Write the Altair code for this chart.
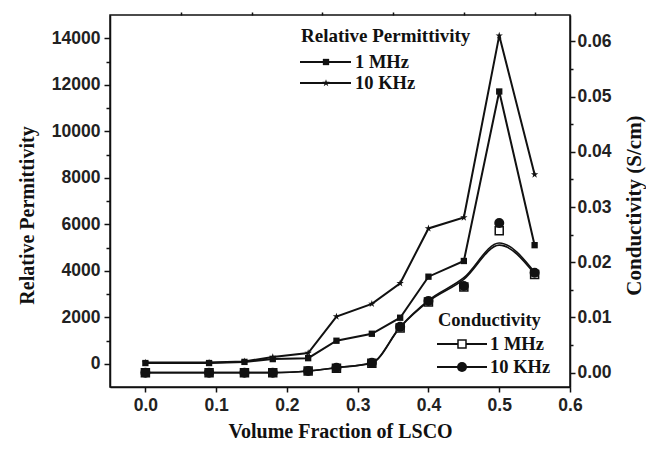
import altair as alt
import pandas as pd

# ---------------- data ----------------
x_frac = [0.0, 0.09, 0.14, 0.18, 0.23, 0.27, 0.32, 0.36, 0.40, 0.45, 0.50, 0.55]
perm_1mhz = [30, 30, 80, 200, 240, 990, 1290, 1980, 3745, 4420, 11710, 5100]
perm_10khz = [50, 50, 100, 290, 460, 2030, 2575, 3460, 5820, 6290, 14115, 8140]
cond_1mhz = [0.0000, 0.0000, 0.0000, 0.0000, 0.0003, 0.0008, 0.0017, 0.0081, 0.0128, 0.0155, 0.0257, 0.0178]
cond_10khz = [0.0000, 0.0000, 0.0000, 0.0000, 0.0003, 0.0009, 0.0018, 0.0083, 0.0130, 0.0157, 0.0271, 0.0181]
fit_1mhz = [0.0000, 0.0000, 0.0000, 0.0000, 0.0003, 0.0009, 0.0017, 0.0082, 0.0129, 0.0169, 0.0231, 0.0179]
fit_10khz = [0.0000, 0.0000, 0.0000, 0.0000, 0.0003, 0.0009, 0.0018, 0.0083, 0.0131, 0.0172, 0.0235, 0.0182]

x_ticks = [0.0, 0.1, 0.2, 0.3, 0.4, 0.5, 0.6]
x_minor = [0.05, 0.15, 0.25, 0.35, 0.45, 0.55]
perm_ticks = [0, 2000, 4000, 6000, 8000, 10000, 12000, 14000]
perm_minor = [1000, 3000, 5000, 7000, 9000, 11000, 13000]
cond_ticks = [0.00, 0.01, 0.02, 0.03, 0.04, 0.05, 0.06]
cond_minor = [0.005, 0.015, 0.025, 0.035, 0.045, 0.055]

perm_title = "Relative Permittivity"
cond_title = "Conductivity"
freq_labels = ["1 MHz", "10 KHz"]

STAR = ("M0,-1L0.2245,-0.309L0.951,-0.309L0.363,0.118L0.588,0.809L0,0.382"
        "L-0.588,0.809L-0.363,0.118L-0.951,-0.309L-0.2245,-0.309Z")

# ---------------- frames ----------------
p1 = pd.DataFrame({"x": x_frac, "v": perm_1mhz, "s": freq_labels[0]})
p10 = pd.DataFrame({"x": x_frac, "v": perm_10khz, "s": freq_labels[1]})
perm_df = pd.concat([p1, p10])
c1 = pd.DataFrame({"x": x_frac, "v": cond_1mhz})
c10 = pd.DataFrame({"x": x_frac, "v": cond_10khz})
f1 = pd.DataFrame({"x": x_frac, "v": fit_1mhz, "s": "a"})
f10 = pd.DataFrame({"x": x_frac, "v": fit_10khz, "s": "b"})
fit_df = pd.concat([f1, f10])
dummy = pd.DataFrame({"d": [0]})

W, H = 460, 372
INK = "#111111"
SANS = "Liberation Sans"
SERIF = "Liberation Serif"

xs = alt.Scale(domain=[-0.05, 0.6], nice=False, zero=False)
ps = alt.Scale(domain=[-1000, 15000], nice=False, zero=False)
cs = alt.Scale(domain=[-0.0026, 0.0648], nice=False, zero=False)

common_axis = dict(grid=False, domainColor=INK, domainWidth=1.5, tickColor=INK,
                   tickWidth=1.5, labelFont=SANS, labelFontSize=17.5,
                   labelFontWeight="bold", labelColor="#222222",
                   titleFont=SERIF, titleFontWeight="bold", titleColor=INK)

x_major = alt.Axis(values=x_ticks, format=".1f", tickSize=5, labelPadding=4,
                   title="Volume Fraction of LSCO", titleX=230, titleY=50,
                   titleFontSize=20,
                   titleBaseline="alphabetic", titleAlign="center",
                   labelFlush=False, **common_axis)
x_min = alt.Axis(values=x_minor, tickSize=3, labels=False, domain=False,
                 title=None, grid=False, tickColor=INK, tickWidth=1.5)

y_left = alt.Axis(values=perm_ticks, format="d", tickSize=6, labelPadding=4,
                  orient="left", title=perm_title, titleAngle=270, titleX=-77,
                  titleY=200, titleFontSize=20, titleBaseline="alphabetic",
                  titleAlign="center", **common_axis)
y_left_min = alt.Axis(values=perm_minor, tickSize=4, labels=False, domain=False,
                      orient="left", title=None, grid=False, tickColor=INK,
                      tickWidth=1.5)

y_right = alt.Axis(values=cond_ticks, format=".2f", tickSize=5, labelPadding=2,
                   orient="right", title="Conductivity (S/cm)", titleAngle=270,
                   titleX=70, titleY=190, titleFontSize=21,
                   titleBaseline="alphabetic",
                   titleAlign="center", **common_axis)
y_right_min = alt.Axis(values=cond_minor, tickSize=3, labels=False, domain=False,
                       orient="right", title=None, grid=False, tickColor=INK,
                       tickWidth=1.5)

# ---------------- permittivity ----------------
perm_lines = alt.Chart(perm_df).mark_line(color=INK, strokeWidth=2).encode(
    x=alt.X("x:Q", scale=xs, axis=x_major),
    y=alt.Y("v:Q", scale=ps, axis=y_left),
    detail="s:N",
)
perm_helper = alt.Chart(p1).mark_point(opacity=0).encode(
    x=alt.X("x:Q", scale=xs, axis=x_min),
    y=alt.Y("v:Q", scale=ps, axis=y_left_min),
)
perm_sq = alt.Chart(p1).mark_point(shape="square", filled=True, color=INK,
                                   size=40, opacity=1).encode(
    x=alt.X("x:Q", scale=xs, axis=None),
    y=alt.Y("v:Q", scale=ps, axis=None),
)
perm_star = alt.Chart(p10).mark_point(shape=STAR, filled=True, color=INK,
                                      size=60, opacity=1).encode(
    x=alt.X("x:Q", scale=xs, axis=None),
    y=alt.Y("v:Q", scale=ps, axis=None),
)
perm_layer = alt.layer(perm_lines, perm_helper, perm_sq, perm_star).resolve_axis(
    x="independent", y="independent")

# ---------------- conductivity ----------------
cond_curves = alt.Chart(fit_df).mark_line(color=INK, strokeWidth=1.6,
                                          interpolate="monotone").encode(
    x=alt.X("x:Q", scale=xs, axis=None),
    y=alt.Y("v:Q", scale=cs, axis=y_right),
    detail="s:N",
)
cond_helper = alt.Chart(c1).mark_point(opacity=0).encode(
    x=alt.X("x:Q", scale=xs, axis=None),
    y=alt.Y("v:Q", scale=cs, axis=y_right_min),
)
cond_sq = alt.Chart(c1).mark_point(shape="square", filled=True, fill="white",
                                   stroke=INK, strokeWidth=1.5, size=64,
                                   opacity=1).encode(
    x=alt.X("x:Q", scale=xs, axis=None),
    y=alt.Y("v:Q", scale=cs, axis=None),
)
cond_circ = alt.Chart(c10).mark_point(shape="circle", filled=True, color=INK,
                                      size=100, opacity=1).encode(
    x=alt.X("x:Q", scale=xs, axis=None),
    y=alt.Y("v:Q", scale=cs, axis=None),
)
cond_layer = alt.layer(cond_curves, cond_helper, cond_sq, cond_circ).resolve_axis(
    y="independent")

# ---------------- legends (pixel positions inside the plot) ----------------
def legend_text(txt, x, y, size=18.5):
    return alt.Chart(dummy).mark_text(font=SERIF, fontSize=size, fontWeight="bold",
                                      color=INK, align="left",
                                      baseline="middle").encode(
        x=alt.value(x), y=alt.value(y), text=alt.value(txt))

def legend_line(x0, x1, y):
    return alt.Chart(dummy).mark_rule(color=INK, strokeWidth=2).encode(
        x=alt.value(x0), x2=alt.value(x1), y=alt.value(y))

def legend_marker(x, y, **kw):
    return alt.Chart(dummy).mark_point(opacity=1, **kw).encode(
        x=alt.value(x), y=alt.value(y))

leg = [
    legend_text(perm_title, 191, 21, 19),
    legend_line(190, 241, 47), legend_marker(216, 47, shape="square", filled=True, color=INK, size=40),
    legend_text(freq_labels[0], 245, 47),
    legend_line(190, 241, 68), legend_marker(216, 68, shape=STAR, filled=True, color=INK, size=60),
    legend_text(freq_labels[1], 245, 68),
    legend_text(cond_title, 328, 305),
    legend_line(327, 377, 329), legend_marker(352, 329, shape="square", filled=True, fill="white", stroke=INK, strokeWidth=1.5, size=64),
    legend_text(freq_labels[0], 380, 329),
    legend_line(327, 377, 352), legend_marker(352, 352, shape="circle", filled=True, color=INK, size=100),
    legend_text(freq_labels[1], 380, 352),
]

chart = alt.layer(perm_layer, cond_layer, *leg).resolve_scale(
    y="independent").resolve_axis(x="independent", y="independent").properties(
    width=W, height=H,
    autosize=alt.AutoSizeParams(type="none"),
    padding={"left": 102, "top": 7, "right": 76, "bottom": 56},
    background="white",
).configure_view(stroke=INK, strokeWidth=1.5)

chart.save("out.html", embed_options={"renderer": "svg", "actions": False})
